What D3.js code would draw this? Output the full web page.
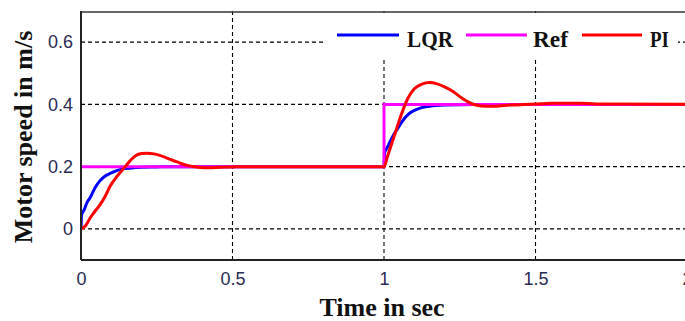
<!DOCTYPE html>
<html><head><meta charset="utf-8">
<script src="https://cdn.jsdelivr.net/npm/d3@7"></script>
<style>html,body{margin:0;padding:0;background:#fff;overflow:hidden}</style>
</head><body>
<svg id="chart" width="685" height="321"></svg>
<script>
// ---- data ----
const seriesNames = ["LQR", "Ref", "PI"];
const seriesColors = ["#0000ff", "#ff00ff", "#ff0000"];
const xTicks = [0, 0.5, 1, 1.5, 2];
const yTicks = [0, 0.2, 0.4, 0.6];
const xTickLabels = ["0", "0.5", "1", "1.5", "2"];
const yTickLabels = ["0", "0.2", "0.4", "0.6"];

const lqrT = [0, 0.002, 0.01, 0.02, 0.03, 0.045, 0.063, 0.08, 0.096, 0.12, 0.146, 0.18, 0.25, 0.3, 1.0,
              1.002, 1.01, 1.02, 1.033, 1.05, 1.066, 1.08, 1.11, 1.15, 1.2, 1.3, 2.0];
const lqrV = [0, 0.045, 0.06, 0.085, 0.10, 0.13, 0.155, 0.17, 0.178, 0.188, 0.194, 0.197, 0.199, 0.2, 0.2,
              0.245, 0.26, 0.28, 0.304, 0.33, 0.353, 0.368, 0.385, 0.394, 0.398, 0.4, 0.4];

const refT = [0, 1, 1, 2];
const refV = [0.2, 0.2, 0.4, 0.4];

const piT = [0, 0.015, 0.03, 0.045, 0.063, 0.08, 0.096, 0.12, 0.146, 0.165, 0.18, 0.2, 0.217, 0.24, 0.26, 0.29,
             0.317, 0.35, 0.38, 0.42, 0.46, 0.5, 0.55, 1.0,
             1.012, 1.034, 1.056, 1.078, 1.1, 1.125, 1.15, 1.175, 1.2, 1.23, 1.26, 1.29, 1.32, 1.364, 1.42,
             1.5, 1.55, 1.65, 1.7, 2.0];
const piV = [0, 0.01, 0.035, 0.055, 0.078, 0.105, 0.137, 0.17, 0.2, 0.222, 0.235, 0.242, 0.243, 0.241, 0.236, 0.225,
             0.215, 0.204, 0.199, 0.196, 0.198, 0.199, 0.2, 0.2,
             0.234, 0.299, 0.364, 0.418, 0.45, 0.465, 0.47, 0.466, 0.456, 0.44, 0.418, 0.402, 0.395, 0.394, 0.398,
             0.401, 0.404, 0.404, 0.401, 0.4];

// ---- layout ----
const svg = d3.select("#chart");
const L = 81, R = 687, T = 11, B = 260;
const x = d3.scaleLinear().domain([0, 2]).range([L, R]);
const y = d3.scaleLinear().domain([-0.1, 0.7]).range([B, T]);

svg.append("defs").append("clipPath").attr("id", "clip")
  .append("rect").attr("x", L).attr("y", T).attr("width", R - L + 5).attr("height", B - T);

// grid
const grid = svg.append("g").attr("stroke", "#000").attr("stroke-width", 1.1).attr("stroke-dasharray", "4,3");
grid.selectAll(".gx").data(xTicks.filter(d => d > 0 && d < 2)).enter().append("line")
  .attr("x1", d => x(d)).attr("x2", d => x(d)).attr("y1", T).attr("y2", B);
grid.selectAll(".gy").data(yTicks).enter().append("line")
  .attr("x1", L).attr("x2", R + 5).attr("y1", d => y(d)).attr("y2", d => y(d));

// legend background (covers grid)
svg.append("rect").attr("x", 325).attr("y", 13).attr("width", 353).attr("height", 45).attr("fill", "#fff");

// lines
const line = d3.line().x(d => x(d[0])).y(d => y(d[1])).curve(d3.curveMonotoneX);
const lineLin = d3.line().x(d => x(d[0])).y(d => y(d[1]));
const plot = svg.append("g").attr("clip-path", "url(#clip)");
const lqrData = lqrT.map((t, i) => [t, lqrV[i]]);
const refData = refT.map((t, i) => [t, refV[i]]);
const piData = piT.map((t, i) => [t, piV[i]]);
plot.append("path").attr("d", line(lqrData)).attr("fill", "none").attr("stroke", seriesColors[0]).attr("stroke-width", 3);
plot.append("path").attr("d", lineLin(refData)).attr("fill", "none").attr("stroke", seriesColors[1]).attr("stroke-width", 3);
plot.append("path").attr("d", line(piData)).attr("fill", "none").attr("stroke", seriesColors[2]).attr("stroke-width", 3);

// frame
svg.append("line").attr("x1", L).attr("x2", L).attr("y1", T).attr("y2", B).attr("stroke", "#222").attr("stroke-width", 2);
svg.append("line").attr("x1", L).attr("x2", 690).attr("y1", B).attr("y2", B).attr("stroke", "#222").attr("stroke-width", 2);
svg.append("line").attr("x1", L).attr("x2", 690).attr("y1", T + 1).attr("y2", T + 1).attr("stroke", "#333").attr("stroke-width", 1.5);

// axes
const xAxis = d3.axisBottom(x).tickValues(xTicks).tickSize(0).tickPadding(12)
  .tickFormat((d, i) => xTickLabels[i]);
const gx = svg.append("g").attr("transform", `translate(0,${B})`).call(xAxis);
gx.select(".domain").remove();
gx.selectAll("text").attr("font-family", "'Liberation Sans', Arial, sans-serif").attr("font-size", 18).attr("fill", "#2a2a55");

const yAxis = d3.axisLeft(y).tickValues(yTicks).tickSize(0).tickPadding(8)
  .tickFormat((d, i) => yTickLabels[i]);
const gy = svg.append("g").attr("transform", `translate(${L},0)`).call(yAxis);
gy.select(".domain").remove();
gy.selectAll("text").attr("font-family", "'Liberation Sans', Arial, sans-serif").attr("font-size", 18).attr("fill", "#2a2a55");

// titles
svg.append("text").attr("x", 382).attr("y", 316).attr("text-anchor", "middle")
  .attr("font-family", "'Liberation Serif', 'Times New Roman', serif").attr("font-weight", "bold").attr("font-size", 26)
  .attr("fill", "#111").text("Time in sec");
svg.append("text").attr("transform", "translate(32,137) rotate(-90)").attr("text-anchor", "middle")
  .attr("font-family", "'Liberation Serif', 'Times New Roman', serif").attr("font-weight", "bold").attr("font-size", 26)
  .attr("fill", "#111").text("Motor speed in m/s");

// legend
const legLineX = [[337, 399], [466, 527], [582, 642]];
const legTextX = [407, 533, 650];
const legTextW = [46, 35, 19];
const leg = svg.append("g");
seriesNames.forEach((n, i) => {
  leg.append("line").attr("x1", legLineX[i][0]).attr("x2", legLineX[i][1]).attr("y1", 35).attr("y2", 35)
    .attr("stroke", seriesColors[i]).attr("stroke-width", 3);
  leg.append("text").attr("x", legTextX[i]).attr("y", 47)
    .attr("font-family", "'Liberation Serif', 'Times New Roman', serif").attr("font-weight", "bold").attr("font-size", 24)
    .attr("textLength", legTextW[i]).attr("lengthAdjust", "spacingAndGlyphs")
    .attr("fill", "#111").text(n);
});
</script>
</body></html>
